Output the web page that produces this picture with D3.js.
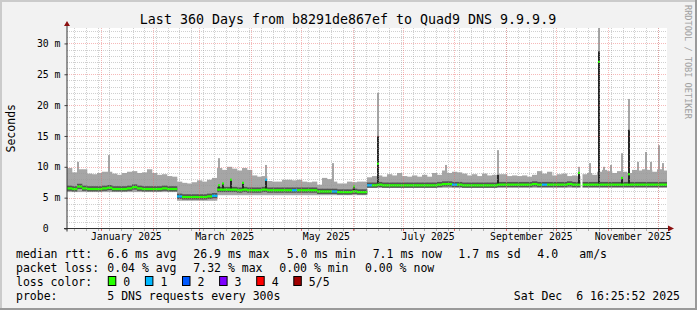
<!DOCTYPE html>
<html>
<head>
<meta charset="utf-8">
<script src="https://cdn.jsdelivr.net/npm/d3@7"></script>
<style>
body { margin: 0; background: #fff; }
text { font-family: "DejaVu Sans Mono", monospace; white-space: pre; }
</style>
</head>
<body>
<script>
// time range of the graph
var start = new Date(2024, 11, 11, 16, 25, 52);
var end = new Date(2025, 11, 6, 16, 25, 52);
var binHours = 72; // each value below covers 3 days

// median rtt per 3 day bin (ms)
var medianMs = [6.5,6.4,6.8,6.5,6.4,6.4,6.4,6.5,6.6,6.4,6.4,6.4,6.5,6.7,6.5,6.4,6.4,6.4,6.4,6.5,6.4,6.4,
  5.2,5.1,5.1,5.1,5.1,5.1,5.2,5.3,
  6.3,6.3,6.3,6.3,6.2,6.3,6.2,6.2,6.2,6.3,6.2,6.2,6.2,6.2,6.2,6.2,6.2,6.2,6.2,6.2,
  6.0,6.0,6.0,6.0,5.9,5.9,5.9,6.0,5.9,5.9,
  7.0,7.0,7.1,7.0,7.0,7.0,7.0,7.0,7.0,7.0,7.0,7.0,7.0,7.0,7.1,7.2,7.2,7.1,7.1,7.0,7.0,7.0,7.0,7.0,7.0,7.0,
  7.1,7.1,7.1,7.1,7.1,7.1,7.1,7.2,7.1,7.1,7.1,7.1,7.1,7.1,7.2,7.1,7.1,7.1,7.1,7.1,7.1,7.1,7.1,7.1,7.1,7.1,7.1,7.1,7.1,7.1,7.1,7.1,7.1,7.1];

// lowest ping per bin (ms)
var lowMs = [5.9,5.9,5.9,5.9,5.9,5.9,5.9,5.9,5.9,5.9,5.9,5.9,5.9,5.9,5.9,5.9,5.9,5.9,5.9,5.9,5.9,5.9,
  4.5,4.5,4.5,4.5,4.5,4.5,4.5,4.5,
  5.4,5.4,5.4,5.4,5.4,5.4,5.4,5.4,5.4,5.4,5.4,5.4,5.4,5.4,5.4,5.4,5.4,5.4,5.4,5.4,
  5.4,5.4,5.4,5.4,5.4,5.4,5.4,5.4,5.4,5.4,
  6.6,6.6,6.6,6.6,6.6,6.6,6.6,6.6,6.6,6.6,6.6,6.6,6.6,6.6,6.6,6.6,6.6,6.6,6.6,6.6,6.6,6.6,6.6,6.6,6.6,6.6,6.6,6.6,6.6,6.6,
  6.6,6.6,6.6,6.6,6.6,6.6,6.6,6.6,6.6,6.6,6.6,6.6,6.6,6.6,6.6,6.6,6.6,6.6,6.6,6.6,6.6,6.6,6.6,6.6,6.6,6.6,6.6,6.6,6.6,6.6];

// highest ping per bin (ms)
var highMs = [9.8,9.1,9.6,9.6,8.9,8.8,9.0,9.2,9.2,8.9,
  8.7,9.0,9.2,9.3,9.0,9.1,9.6,9.0,8.7,8.8,
  8.5,8.4,7.6,7.4,7.3,7.5,7.8,7.6,7.9,8.2,
  9.8,9.5,10.0,9.7,9.4,9.8,9.5,8.6,8.4,8.5,
  7.7,7.6,7.6,7.9,7.9,7.8,7.9,7.6,7.5,7.6,
  7.1,8.2,8.0,7.6,7.3,7.3,7.6,7.5,7.6,7.6,
  8.3,8.5,8.6,8.4,8.8,8.6,9.0,8.5,8.4,8.6,
  8.4,8.7,8.4,9.0,8.7,9.4,9.0,9.2,9.1,8.9,
  8.6,8.8,8.5,8.9,8.6,8.7,8.8,8.8,8.5,8.6,
  8.5,8.6,8.4,8.7,9.3,8.9,9.2,8.6,8.8,8.9,
  8.5,8.6,8.5,8.8,9.0,8.7,9.2,9.5,9.3,9.0,
  9.3,9.2,9.0,9.5,9.4,9.6,9.5,9.2,9.6,9.4];

// packets lost per bin (of 5)
var lossBin = [0,0,0,0,0,0,0,0,0,0,0,0,0,0,0,0,0,0,0,0,0,0,
  1,0,0,0,0,0,0,1,
  0,0,0,0,0,0,0,0,0,0,0,0,0,0,0,1,0,0,0,0,
  0,0,0,1,0,0,0,0,0,0,
  1,0,0,0,0,0,0,0,0,0,0,0,0,0,0,0,0,1,0,0,0,0,0,0,0,0,
  0,0,0,0,0,0,0,0,0,1,0,0,0,0,0,0,0,0,0,0,0,0,0,0,0,0,0,0,0,0,0,0,0,0];

// short spikes: day since start, max ping, dark smoke top, median
var spikes = [
  {day: 6.6, grey: 10.8},
  {day: 25.2, grey: 11.9},
  {day: 91.2, grey: 11.4, dark: 7.0, green: 7.0},
  {day: 93.6, dark: 7.3, green: 7.3},
  {day: 98.4, dark: 7.9, green: 7.9},
  {day: 105.6, dark: 7.4, green: 7.4},
  {day: 119.4, grey: 10.3, dark: 7.9, green: 7.9, loss: 1},
  {day: 159.6, grey: 10.6},
  {day: 172.2, dark: 6.8, green: 6.8},
  {day: 186.6, grey: 22.0, dark: 15.0, green: 10.5},
  {day: 227.4, grey: 10.3},
  {day: 258.6, grey: 12.7, dark: 8.7},
  {day: 307.2, grey: 10.0, dark: 9.0, green: 9.0},
  {day: 313.8, grey: 10.6},
  {day: 319.2, grey: 33.0, dark: 28.7, green: 27.0},
  {day: 322.2, grey: 10.0},
  {day: 326.4, grey: 10.3},
  {day: 333.0, grey: 12.2, dark: 8.2, green: 8.2},
  {day: 337.2, grey: 21.0, dark: 16.0, green: 8.8},
  {day: 342.6, grey: 10.8},
  {day: 347.4, grey: 12.4},
  {day: 350.4, grey: 10.8},
  {day: 355.2, grey: 13.5},
  {day: 357.6, grey: 10.6}
];
var gapDays = [308.1];

var yTicks = [0, 5, 10, 15, 20, 25, 30];
var yLabels = ['0  ', '5 m', '10 m', '15 m', '20 m', '25 m', '30 m'];
var labelMonths = ['2025-01-01', '2025-03-01', '2025-05-01', '2025-07-01', '2025-09-01', '2025-11-01'];

var lossColors = ['#26ff00', '#00b8ff', '#0059ff', '#7e00ff', '#ff0000', '#a00000'];
var lossNames = ['0', '1', '2', '3', '4', '5/5'];

var legendRtt = [['median rtt:', 16], ['6.6 ms avg', 107.3], ['26.9 ms max', 193.3], ['5.0 ms min', 286.7],
  ['7.1 ms now', 372.7], ['1.7 ms sd', 458.3], ['4.0', 537.3], ['am/s', 579.3]];
var legendLoss = [['packet loss:', 16], ['0.04 % avg', 107.3], ['7.32 % max', 193.3], ['0.00 % min', 279.3], ['0.00 % now', 365]];

var W = 697, H = 310;
var pLeft = 67, pRight = 667, pTop = 28, pBottom = 228.5;

var svg = d3.select('body').append('svg').attr('width', W).attr('height', H);

svg.append('rect').attr('width', W).attr('height', H).attr('fill', '#f2f2f2');
svg.append('path').attr('d', 'M1,' + H + 'V1H' + W).attr('stroke', '#cbcbcb').attr('stroke-width', 2).attr('fill', 'none');
svg.append('path').attr('d', 'M0,' + (H - 1) + 'H' + (W - 1) + 'V0').attr('stroke', '#9a9a9a').attr('stroke-width', 2).attr('fill', 'none');

var x = d3.scaleTime().domain([start, end]).range([pLeft, pRight]);
var y = d3.scaleLinear().domain([0, 32.5]).range([pBottom, pTop]);

svg.append('rect').attr('x', pLeft).attr('y', pTop).attr('width', pRight - pLeft).attr('height', pBottom - pTop).attr('fill', '#fff');

svg.append('clipPath').attr('id', 'plot').append('rect')
  .attr('x', pLeft).attr('y', pTop).attr('width', pRight - pLeft).attr('height', pBottom - pTop);

var plot = svg.append('g').attr('clip-path', 'url(#plot)');

function dayDate(d) { return new Date(+start + d * 864e5); }
var bins = medianMs.map(function(m, i) {
  return {
    t0: d3.timeHour.offset(start, i * binHours),
    t1: d3.timeHour.offset(start, (i + 1) * binHours),
    med: m, lo: lowMs[i], hi: highMs[i], loss: lossBin[i]
  };
});

// light smoke
plot.selectAll('.smoke').data(bins).enter().append('rect')
  .attr('x', function(d) { return x(d.t0); })
  .attr('width', function(d) { return x(d.t1) - x(d.t0) + 0.3; })
  .attr('y', function(d) { return y(d.hi); })
  .attr('height', function(d) { return y(d.lo) - y(d.hi); })
  .attr('fill', '#a6a6a6');

// grey tops of spikes
plot.selectAll('.sg').data(spikes.filter(function(d) { return d.grey; })).enter().append('rect')
  .attr('x', function(d) { return x(dayDate(d.day)) - 1; })
  .attr('width', 2)
  .attr('y', function(d) { return y(d.grey); })
  .attr('height', function(d) { return y(7.5) - y(d.grey); })
  .attr('fill', '#a6a6a6');

// dark smoke round the median
plot.selectAll('.dark').data(bins).enter().append('rect')
  .attr('x', function(d) { return x(d.t0); })
  .attr('width', function(d) { return x(d.t1) - x(d.t0) + 0.3; })
  .attr('y', function(d) { return y(d.med + 0.45); })
  .attr('height', function(d) { return y(d.med - 0.4) - y(d.med + 0.45); })
  .attr('fill', '#555');

function binMed(day) {
  var i = Math.min(bins.length - 1, Math.floor(day * 24 / binHours));
  return bins[i].med;
}

plot.selectAll('.sd').data(spikes.filter(function(d) { return d.dark; })).enter().append('rect')
  .attr('x', function(d) { return x(dayDate(d.day)) - 1; })
  .attr('width', 2)
  .attr('y', function(d) { return y(d.dark); })
  .attr('height', function(d) { return y(binMed(d.day)) - y(d.dark); })
  .attr('fill', '#262626');

// median line coloured by loss
plot.selectAll('.med').data(bins).enter().append('rect')
  .attr('x', function(d) { return x(d.t0); })
  .attr('width', function(d) { return x(d.t1) - x(d.t0) + 0.3; })
  .attr('y', function(d) { return y(d.med) - 1.1; })
  .attr('height', 2.2)
  .attr('fill', function(d) { return lossColors[d.loss]; });

plot.selectAll('.sm').data(spikes.filter(function(d) { return d.green; })).enter().append('rect')
  .attr('x', function(d) { return x(dayDate(d.day)) - 1; })
  .attr('width', 2)
  .attr('y', function(d) { return y(d.green) - 1.1; })
  .attr('height', 2.2)
  .attr('fill', function(d) { return lossColors[d.loss || 0]; });

// missing data
plot.selectAll('.gap').data(gapDays).enter().append('rect')
  .attr('x', function(d) { return x(dayDate(d)); })
  .attr('width', function(d) { return x(dayDate(d + 1.2)) - x(dayDate(d)); })
  .attr('y', pTop).attr('height', pBottom - pTop)
  .attr('fill', '#fff');

// grid
var minorY = d3.range(1, 33).filter(function(v) { return v % 5 !== 0; });
var majorY = yTicks.filter(function(v) { return v > 0; });
var weeks = d3.timeMonday.range(start, end);
var months = d3.timeMonth.range(start, end);

var grid = svg.append('g').attr('fill', 'none').attr('stroke-dasharray', '1,1').attr('stroke-width', 1);
grid.selectAll('.gy').data(minorY).enter().append('line')
  .attr('x1', pLeft).attr('x2', pRight)
  .attr('y1', function(d) { return Math.round(y(d)) + 0.5; })
  .attr('y2', function(d) { return Math.round(y(d)) + 0.5; })
  .attr('stroke', 'rgba(150,150,150,0.45)');
grid.selectAll('.gx').data(weeks).enter().append('line')
  .attr('x1', function(d) { return Math.round(x(d)) + 0.5; })
  .attr('x2', function(d) { return Math.round(x(d)) + 0.5; })
  .attr('y1', pTop).attr('y2', pBottom)
  .attr('stroke', 'rgba(150,150,150,0.45)');
grid.selectAll('.my').data(majorY).enter().append('line')
  .attr('x1', pLeft).attr('x2', pRight)
  .attr('y1', function(d) { return Math.round(y(d)) + 0.5; })
  .attr('y2', function(d) { return Math.round(y(d)) + 0.5; })
  .attr('stroke', 'rgba(235,100,100,0.45)');
grid.selectAll('.mx').data(months).enter().append('line')
  .attr('x1', function(d) { return Math.round(x(d)) + 0.5; })
  .attr('x2', function(d) { return Math.round(x(d)) + 0.5; })
  .attr('y1', pTop).attr('y2', pBottom)
  .attr('stroke', 'rgba(235,100,100,0.45)');

// small ticks under the x axis
svg.selectAll('.tw').data(weeks).enter().append('line')
  .attr('x1', function(d) { return Math.round(x(d)) + 0.5; })
  .attr('x2', function(d) { return Math.round(x(d)) + 0.5; })
  .attr('y1', pBottom).attr('y2', pBottom + 2.5)
  .attr('stroke', '#b0b0b0');
svg.selectAll('.tm').data(months).enter().append('line')
  .attr('x1', function(d) { return Math.round(x(d)) + 0.5; })
  .attr('x2', function(d) { return Math.round(x(d)) + 0.5; })
  .attr('y1', pBottom).attr('y2', pBottom + 2.5)
  .attr('stroke', '#e07070');

// axes
var yAxis = d3.axisLeft(y).tickValues(yTicks).tickSize(3).tickPadding(4)
  .tickFormat(function(d, i) { return yLabels[i]; });
var gy = svg.append('g').attr('transform', 'translate(' + (pLeft + 0.5) + ',0)').call(yAxis);
gy.select('.domain').remove();
gy.selectAll('line').attr('stroke', '#444');
gy.selectAll('text').attr('font-size', '9.8px').attr('fill', '#000').attr('font-family', 'DejaVu Sans Mono');

var xAxis = d3.axisBottom(x)
  .tickValues(labelMonths.map(function(s) { return d3.timeDay.offset(d3.timeParse('%Y-%m-%d')(s), 15); }))
  .tickSize(0).tickPadding(5)
  .tickFormat(function(d) { return d3.timeFormat('%B %Y')(d3.timeMonth.floor(d)); });
var gx = svg.append('g').attr('transform', 'translate(0,' + pBottom + ')').call(xAxis);
gx.select('.domain').remove();
gx.selectAll('text').attr('font-size', '9.8px').attr('fill', '#000').attr('font-family', 'DejaVu Sans Mono');

svg.append('line').attr('x1', pLeft - 3).attr('x2', pRight + 2).attr('y1', pBottom).attr('y2', pBottom)
  .attr('stroke', '#333');
svg.append('line').attr('x1', pLeft).attr('x2', pLeft).attr('y1', pBottom + 3).attr('y2', pTop - 3)
  .attr('stroke', '#333');
svg.append('path').attr('d', 'M' + (pRight + 1) + ',' + (pBottom - 3) + 'L' + (pRight + 7) + ',' + pBottom + 'L' + (pRight + 1) + ',' + (pBottom + 3) + 'Z')
  .attr('fill', '#8b1010');
svg.append('path').attr('d', 'M' + (pLeft - 3) + ',' + (pTop - 2) + 'L' + pLeft + ',' + (pTop - 7) + 'L' + (pLeft + 3) + ',' + (pTop - 2) + 'Z')
  .attr('fill', '#8b1010');

// title and side texts
svg.append('text').attr('x', 348).attr('y', 23.5).attr('text-anchor', 'middle')
  .attr('font-size', '13.3px').text('Last 360 Days from b8291de867ef to Quad9 DNS 9.9.9.9');

svg.append('text').attr('transform', 'translate(10.5,' + ((pTop + pBottom) / 2) + ') rotate(-90)')
  .attr('text-anchor', 'middle').attr('dy', '0.35em').attr('font-size', '11.5px').text('Seconds');

svg.append('text').attr('transform', 'translate(684.5,5) rotate(90)')
  .attr('font-size', '8.6px').attr('fill', '#a0a0a0').text('RRDTOOL / TOBI OETIKER');

// legend
var lg = svg.append('g').attr('font-size', '11.5px').attr('fill', '#000');
lg.selectAll('.l1').data(legendRtt).enter().append('text')
  .attr('x', function(d) { return d[1]; }).attr('y', 258.3).text(function(d) { return d[0]; });
lg.selectAll('.l2').data(legendLoss).enter().append('text')
  .attr('x', function(d) { return d[1]; }).attr('y', 272.3).text(function(d) { return d[0]; });
lg.append('text').attr('x', 16).attr('y', 286).text('loss color:');
lossNames.forEach(function(n, i) {
  var bx = 108.3 + i * 37.1;
  lg.append('rect').attr('x', bx).attr('y', 276.5).attr('width', 7.5).attr('height', 9)
    .attr('fill', lossColors[i]).attr('stroke', '#000').attr('stroke-width', 1);
  lg.append('text').attr('x', bx + 15).attr('y', 286).text(n);
});
lg.append('text').attr('x', 16).attr('y', 300).text('probe:');
lg.append('text').attr('x', 107.3).attr('y', 300).text('5 DNS requests every 300s');
lg.append('text').attr('x', 680).attr('y', 300).attr('text-anchor', 'end').text('Sat Dec  6 16:25:52 2025');
</script>
</body>
</html>
